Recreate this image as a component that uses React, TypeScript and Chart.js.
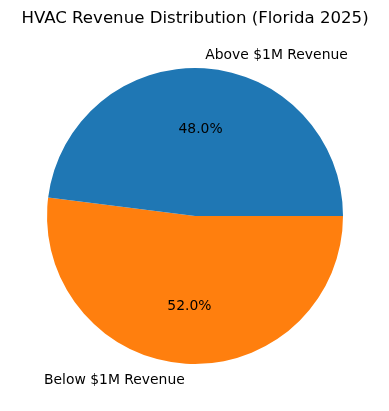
import React, { useEffect, useRef } from "react";
import { Chart, registerables } from "chart.js";

Chart.register(...registerables);

const categories = ["Below $1M Revenue", "Above $1M Revenue"];
const values = [52.0, 48.0];
const colors = ["#ff7f0e", "#1f77b4"];
const title = "HVAC Revenue Distribution (Florida 2025)";

const FONT = "'DejaVu Sans', sans-serif";

const labelPlugin = {
  id: "mplLabels",
  afterDraw(chart: any) {
    const ctx = chart.ctx;
    const meta = chart.getDatasetMeta(0);
    ctx.save();
    ctx.fillStyle = "#000";
    // title
    ctx.font = `16.6px ${FONT}`;
    ctx.textAlign = "center";
    ctx.textBaseline = "alphabetic";
    ctx.fillText(title, 195, 23.3);
    const total = values.reduce((a, b) => a + b, 0);
    meta.data.forEach((arc: any, i: number) => {
      const { x, y, startAngle, endAngle, outerRadius } = arc.getProps(
        ["x", "y", "startAngle", "endAngle", "outerRadius"],
        true
      );
      const mid = (startAngle + endAngle) / 2;
      const cx = Math.cos(mid);
      const cy = Math.sin(mid);
      ctx.font = `13.9px ${FONT}`;
      ctx.textBaseline = "alphabetic";
      // outer label
      const lx = x + cx * outerRadius * 1.1;
      const ly = y + cy * outerRadius * 1.1;
      ctx.textAlign = cx >= 0 ? "left" : "right";
      ctx.fillText(categories[i], lx, ly + 5.3);
      // percentage
      const px = x + cx * outerRadius * 0.6;
      const py = y + cy * outerRadius * 0.6;
      ctx.textAlign = "center";
      ctx.fillText(((values[i] / total) * 100).toFixed(1) + "%", px, py + 5.3);
    });
    ctx.restore();
  },
};

export default function App() {
  const ref = useRef<HTMLCanvasElement>(null);
  useEffect(() => {
    if (!ref.current) return;
    const chart = new Chart(ref.current, {
      type: "pie",
      data: {
        labels: categories,
        datasets: [
          {
            data: values,
            backgroundColor: colors,
            borderWidth: 0,
          },
        ],
      },
      options: {
        animation: false,
        responsive: false,
        rotation: 90,
        layout: { padding: { left: 47, right: 46, top: 68, bottom: 47 } },
        plugins: {
          legend: { display: false },
          title: { display: false },
          tooltip: { enabled: false },
        },
      },
      plugins: [labelPlugin],
    });
    return () => chart.destroy();
  }, []);
  return (
    <div style={{ position: "fixed", left: 0, top: 0, width: 389, height: 411, background: "#fff" }}>
      <canvas ref={ref} width={389} height={411} style={{ width: 389, height: 411 }} />
    </div>
  );
}
